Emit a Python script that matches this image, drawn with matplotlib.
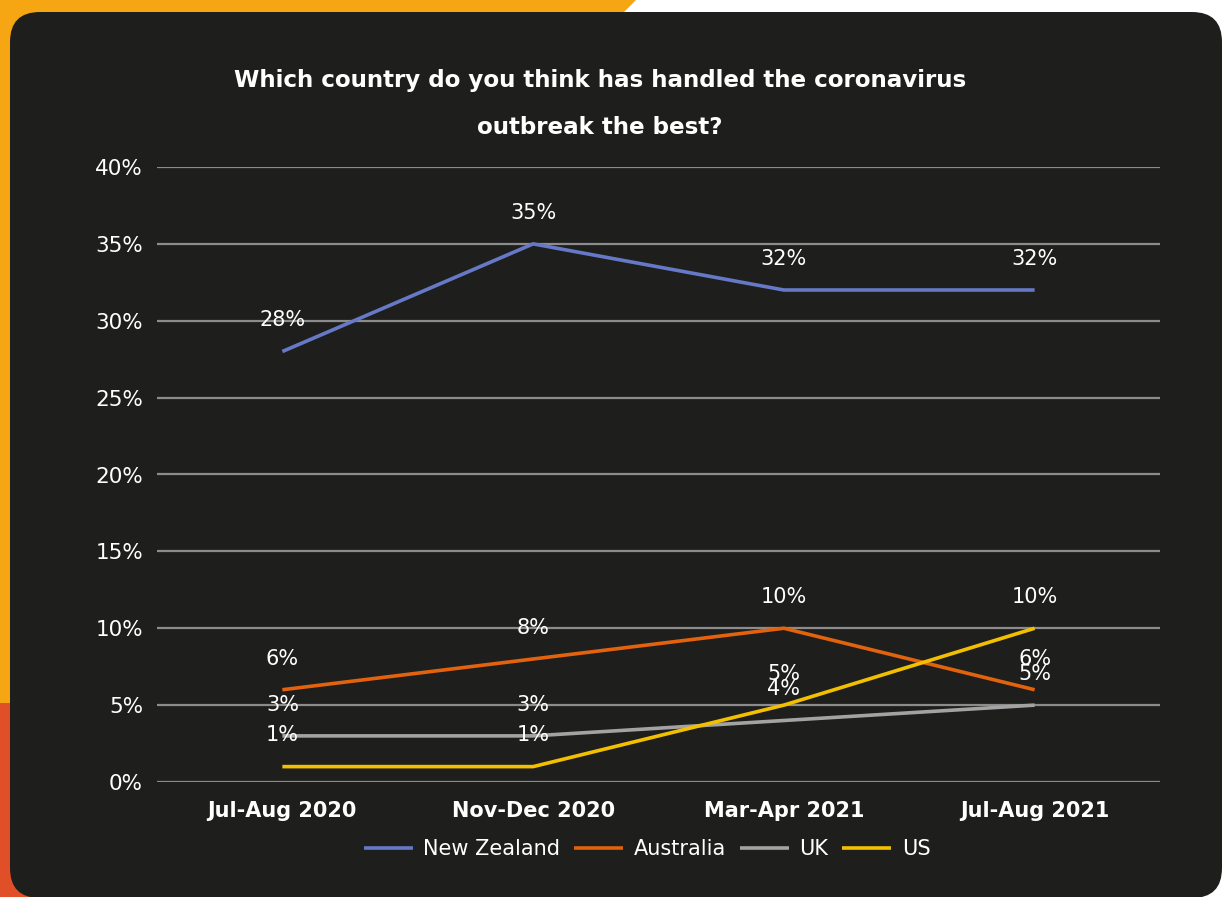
import matplotlib
matplotlib.use("Agg")
import matplotlib.pyplot as plt
from matplotlib.patches import FancyBboxPatch, Rectangle, Polygon
from matplotlib.ticker import PercentFormatter

categories = ["Jul-Aug 2020", "Nov-Dec 2020", "Mar-Apr 2021", "Jul-Aug 2021"]
new_zealand = [28, 35, 32, 32]
australia = [6, 8, 10, 6]
uk = [3, 3, 4, 5]
us = [1, 1, 5, 10]
series_names = ["New Zealand", "Australia", "UK", "US"]
colors = ["#6679c6", "#e2620e", "#a3a3a3", "#f3c000"]
title = "Which country do you think has handled the coronavirus\noutbreak the best?"

plt.rcParams['font.family'] = ['DejaVu Sans']
W, H = 1223, 897
fig = plt.figure(figsize=(W / 100, H / 100), dpi=100)
fig.patch.set_facecolor("white")

bg = fig.add_axes([0, 0, 1, 1])
bg.set_xlim(0, W)
bg.set_ylim(H, 0)
bg.axis("off")
bg.add_patch(Polygon([(0, 0), (636, 0), (622, 14), (0, 14)], closed=True, color="#f5a612", lw=0))
bg.add_patch(Rectangle((0, 0), 60, 703, color="#f5a612", lw=0))
bg.add_patch(Rectangle((0, 703), 60, H - 703, color="#e04f27", lw=0))
bg.add_patch(FancyBboxPatch((10 + 30, 12 + 30), 1212 - 60, 886 - 60,
                            boxstyle="round,pad=30", color="#1e1e1c", lw=0))

ax = fig.add_axes([157 / W, 1 - 782 / H, (1160 - 157) / W, (782 - 167) / H])
ax.set_facecolor("none")
x = list(range(len(categories)))
data = [new_zealand, australia, uk, us]
for vals, name, c in zip(data, series_names, colors):
    ax.plot(x, vals, color=c, lw=2.6, label=name, solid_capstyle="butt", zorder=3)
    for xi, v in zip(x, vals):
        ax.annotate(f"{v}%", (xi, v), xytext=(0, 22.5), textcoords="offset points",
                    ha="center", va="center", color="white", fontsize=15, zorder=4)

ax.set_xlim(-0.5, 3.5)
ax.set_ylim(0, 40)
ax.set_yticks(range(0, 41, 5))
ax.yaxis.set_major_formatter(PercentFormatter(decimals=0))
ax.set_xticks(x)
ax.set_xticklabels(categories, fontweight="bold")
ax.grid(axis="y", color="#8c8c8c", lw=1.6)
ax.set_axisbelow(True)
for s in ax.spines.values():
    s.set_visible(False)
ax.tick_params(axis="both", length=0, colors="white", labelsize=15)
ax.tick_params(axis="y", labelsize=15.5, pad=10)
ax.tick_params(axis="x", pad=14)

fig.text(600 / W, 1 - 104 / H, title, ha="center", va="center", color="white",
         fontsize=16.6, fontweight="bold", linespacing=2.3)

leg = ax.legend(loc="center", bbox_to_anchor=(647 / W, 1 - 849 / H),
                bbox_transform=fig.transFigure, ncol=4, frameon=False,
                fontsize=15, labelcolor="white", handlelength=2.35,
                handletextpad=0.5, columnspacing=0.68)

fig.savefig("out.png", dpi=100, facecolor=fig.get_facecolor())
